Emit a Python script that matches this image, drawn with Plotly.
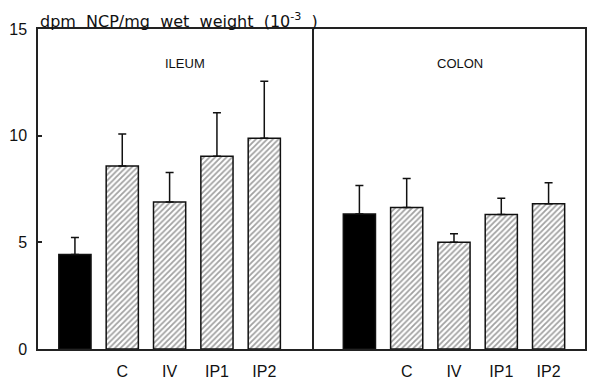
import plotly.graph_objects as go
from plotly.subplots import make_subplots

# Groups and treatment labels (first bar of each panel is the untreated control)
groups = ["ILEUM", "COLON"]
treatments = ["ctrl", "C", "IV", "IP1", "IP2"]
tick_labels = ["", "C", "IV", "IP1", "IP2"]

# Mean values (x10^-3 dpm NCP/mg wet weight) and upper error (SD)
ileum_mean = [4.43, 8.58, 6.89, 9.04, 9.88]
ileum_err = [0.80, 1.50, 1.38, 2.03, 2.67]
colon_mean = [6.33, 6.63, 5.00, 6.30, 6.81]
colon_err = [1.33, 1.36, 0.40, 0.77, 0.98]

y_ticks = [0, 5, 10, 15]

fill_colors = ["black", "white", "white", "white", "white"]
hatch = ["", "/", "/", "/", "/"]

fig = make_subplots(rows=1, cols=2, shared_yaxes=True, horizontal_spacing=0)

for col, (mean, err) in enumerate([(ileum_mean, ileum_err), (colon_mean, colon_err)], start=1):
    fig.add_trace(
        go.Bar(
            x=treatments,
            y=mean,
            width=0.68,
            marker=dict(
                color=fill_colors,
                line=dict(color="#111", width=1.5),
                pattern=dict(shape=hatch, fgcolor="#222", bgcolor="white",
                             size=4, solidity=0.45),
            ),
            error_y=dict(type="data", symmetric=False, array=err,
                         arrayminus=[0] * len(err), thickness=1.5,
                         width=4, color="#111"),
            showlegend=False,
        ),
        row=1, col=col,
    )

label_font = dict(family="Liberation Sans, Arial", size=16, color="#111")
split = 277 / 549
axis_common = dict(showline=True, linecolor="#222", linewidth=1.5, mirror=True,
                   showgrid=False, zeroline=False, ticks="",
                   tickmode="array", tickvals=treatments, ticktext=tick_labels,
                   ticklabelstandoff=7, tickfont=label_font)
fig.update_layout(
    xaxis=dict(axis_common, domain=[0, split], range=[-0.78, 5.05]),
    xaxis2=dict(axis_common, domain=[split, 1], range=[-0.96, 4.77]),
    # left panel: only the outer left line; the divider comes from yaxis2
    yaxis=dict(range=[0, 15], tickvals=y_ticks, showline=True, linecolor="#222",
               linewidth=1.5, mirror=False, showgrid=False, zeroline=False,
               ticks="inside", ticklen=4, tickwidth=1.5, tickcolor="#222",
               ticklabelstandoff=6, tickfont=label_font),
    yaxis2=dict(range=[0, 15], showline=True, linecolor="#222", linewidth=1.5,
                mirror=True, showgrid=False, zeroline=False, showticklabels=False,
                ticks=""),
    bargap=0.3,
    plot_bgcolor="white",
    paper_bgcolor="white",
    width=592, height=385,
    margin=dict(l=38, r=5, t=29, b=33),
)

# Panel names
for i, name in enumerate(groups):
    xref = "x domain" if i == 0 else "x2 domain"
    fig.add_annotation(text=name, xref=xref, yref="paper", x=0.531 if i == 0 else 0.54,
                       y=0.923, showarrow=False,
                       font=dict(family="Liberation Sans, Arial", size=13, color="#111"))

# Y-axis unit caption above the frame
fig.add_annotation(
    text="dpm&nbsp;&nbsp;NCP/mg&nbsp;&nbsp;wet&nbsp;&nbsp;weight&nbsp;&nbsp;(10<sup>-3</sup>&nbsp;&nbsp;)",
    xref="paper", yref="paper", x=0, y=1.0, xanchor="left", yanchor="bottom",
    showarrow=False, yshift=-4,
    font=dict(family="DejaVu Sans, Verdana", size=16, color="#111"),
)

fig.write_html("out.html")
